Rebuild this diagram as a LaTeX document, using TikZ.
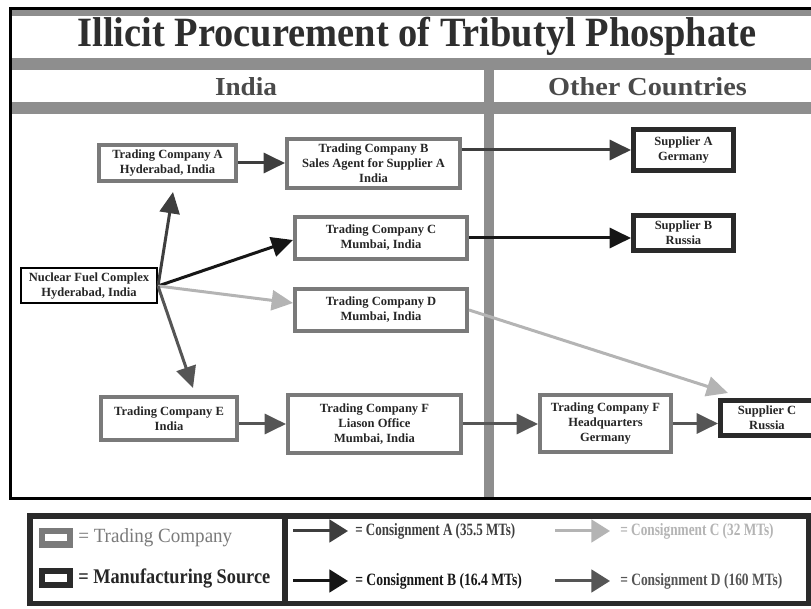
\documentclass[tikz,border=0pt]{standalone}
\usepackage{fontspec}
\usepackage{graphicx}
\newfontfamily\condf[FakeStretch=0.8]{Liberation Serif}
\newfontfamily\boxf{Liberation Serif}
\usetikzlibrary{arrows.meta}
\newcommand\pxu[1]{#1*0.75pt}
\definecolor{bandgray}{HTML}{8E8E8E}
\definecolor{tcgray}{HTML}{7A7A7A}
\definecolor{supblack}{HTML}{2A2A2A}
\definecolor{colA}{HTML}{3E3E3E}
\definecolor{colB}{HTML}{161616}
\definecolor{colC}{HTML}{B4B4B4}
\definecolor{colD}{HTML}{555555}
\definecolor{txtdark}{HTML}{262626}
\definecolor{titlecol}{HTML}{2E2E2E}
\definecolor{headcol}{HTML}{4A4A4A}
\begin{document}
\begin{tikzpicture}[x=0.75pt,y=-0.75pt,
  box/.style={fill=white, align=center, inner sep=0pt, text=txtdark,
    font=\boxf\fontsize{9.4}{11.2}\selectfont\bfseries},
  tc/.style={box, draw=tcgray, line width=3pt},
  sup/.style={box, draw=supblack, line width=3.75pt},
  src/.style={box, draw=black, line width=1.5pt},
  con/.style={line width=2.25pt, -{Triangle[length=16pt,width=15pt]}},
  conA/.style={con, draw=colA},
  conB/.style={con, draw=colB},
  conC/.style={con, draw=colC},
  conD/.style={con, draw=colD},
  legarrow/.style={line width=2.25pt, -{Triangle[length=14pt,width=17pt]}},
  legtext/.style={anchor=west, inner sep=0pt},
]
\useasboundingbox (0,0) rectangle (811,609);
\clip (0,0) rectangle (811,609);
% ---------- main frame ----------
\fill[bandgray] (11,9) rectangle (830,114);
\fill[white] (12,16) rectangle (830,58);
\fill[white] (12,70) rectangle (484,102);
\fill[white] (494,70) rectangle (830,102);
\fill[bandgray] (484,102) rectangle (494,498);
\draw[black, line width=2.25pt] (10,8.5) rectangle (830,499);
% headings
\node[text=titlecol, anchor=base, inner sep=0pt] (title) at (417,47)
  {\resizebox{509pt}{22pt}{\condf\bfseries Illicit Procurement of Tributyl Phosphate}};
\node[text=headcol, anchor=base, inner sep=0pt] (india) at (246,96)
  {\resizebox{46.5pt}{13.5pt}{\condf\bfseries India}};
\node[text=headcol, anchor=base, inner sep=0pt] (other) at (647.5,96)
  {\resizebox{149pt}{13.5pt}{\condf\bfseries Other Countries}};
% ---------- nodes ----------
\node[src, minimum width=\pxu{136}, minimum height=\pxu{35}] (nfc) at (89,286)
  {Nuclear Fuel Complex\\Hyderabad, India};
\node[tc, minimum width=\pxu{137}, minimum height=\pxu{36}] (a) at (167.5,163)
  {Trading Company A\\Hyderabad, India};
\node[tc, minimum width=\pxu{173}, minimum height=\pxu{49}] (b) at (373.5,163.5)
  {Trading Company B\\Sales Agent for Supplier A\\India};
\node[tc, minimum width=\pxu{172}, minimum height=\pxu{42}] (c) at (381,238)
  {Trading Company C\\Mumbai, India};
\node[tc, minimum width=\pxu{172}, minimum height=\pxu{42}] (d) at (381,310)
  {Trading Company D\\Mumbai, India};
\node[tc, minimum width=\pxu{136}, minimum height=\pxu{43}] (e) at (169,418.5)
  {Trading Company E\\India};
\node[tc, minimum width=\pxu{173}, minimum height=\pxu{58}] (f) at (374.5,424)
  {Trading Company F\\Liason Office\\Mumbai, India};
\node[tc, minimum width=\pxu{131}, minimum height=\pxu{57}] (hq) at (605.5,423.5)
  {Trading Company F\\Headquarters\\Germany};
\node[sup, minimum width=\pxu{100}, minimum height=\pxu{41}] (sa) at (683.5,150)
  {Supplier A\\Germany};
\node[sup, minimum width=\pxu{100}, minimum height=\pxu{35}] (sb) at (683.5,233)
  {Supplier B\\Russia};
\node[sup, minimum width=\pxu{93}, minimum height=\pxu{35}] (sc) at (767,418)
  {Supplier C\\Russia};
% ---------- connectors ----------
\draw[conA] (nfc.east) -- ([shift={(5.5,9)}]a.south);
\draw[conA] (a.east) -- (a.east -| b.west);
\draw[conA] (b.east |- sa.west) -- (sa.west);
\draw[conB] (nfc.east) -- ([shift={(0,2)}]c.west);
\draw[conB] (c.east) -- (c.east -| sb.west);
\draw[conC] (nfc.east) -- ([shift={(0,-7)}]d.west);
\draw[conC] (d.east) -- ([shift={(-39,-5)}]sc.north);
\draw[conD] (nfc.east) -- ([shift={(24,-7)}]e.north);
\draw[conD] (e.east |- f.west) -- (f.west);
\draw[conD] (f.east) -- (f.east -| hq.west);
\draw[conD] (hq.east) -- (hq.east -| sc.west);
% ---------- legend ----------
\fill[supblack] (27,513) rectangle (811,606);
\fill[white] (33,519) rectangle (282,601);
\fill[white] (288,519) rectangle (806,601);
\fill[tcgray] (39,528) rectangle (73,548);
\fill[white] (45,534) rectangle (67,541);
\fill[supblack] (39,568) rectangle (73,588);
\fill[white] (45,574) rectangle (67,582);
\node[legtext, text=tcgray] (ltc) at (78,538)
  {\resizebox{115.5pt}{10.5pt}{\condf = Trading Company}};
\node[legtext, text=txtdark] (lms) at (78,578)
  {\resizebox{144pt}{11pt}{\condf\bfseries = Manufacturing Source}};
\coordinate (la1) at (293,531); \coordinate (la2) at (348,531);
\coordinate (lc1) at (555,531); \coordinate (lc2) at (610,531);
\coordinate (lb1) at (293,581); \coordinate (lb2) at (348,581);
\coordinate (ld1) at (555,581); \coordinate (ld2) at (610,581);
\draw[legarrow, draw=colA] (la1) -- (la2);
\draw[legarrow, draw=colC] (lc1) -- (lc2);
\draw[legarrow, draw=colB] (lb1) -- (lb2);
\draw[legarrow, draw=colD] (ld1) -- (ld2);
\node[legtext, text=colA] (lta) at (355,531)
  {\resizebox{120pt}{9pt}{\condf\bfseries = Consignment A (35.5 MTs)}};
\node[legtext, text=colC] (ltc2) at (620,531)
  {\resizebox{115pt}{9pt}{\condf\bfseries = Consignment C (32 MTs)}};
\node[legtext, text=colB] (ltb) at (355,581)
  {\resizebox{125pt}{9pt}{\condf\bfseries = Consignment B (16.4 MTs)}};
\node[legtext, text=colD] (ltd) at (620,581)
  {\resizebox{121.5pt}{9pt}{\condf\bfseries = Consignment D (160 MTs)}};
\end{tikzpicture}
\end{document}
